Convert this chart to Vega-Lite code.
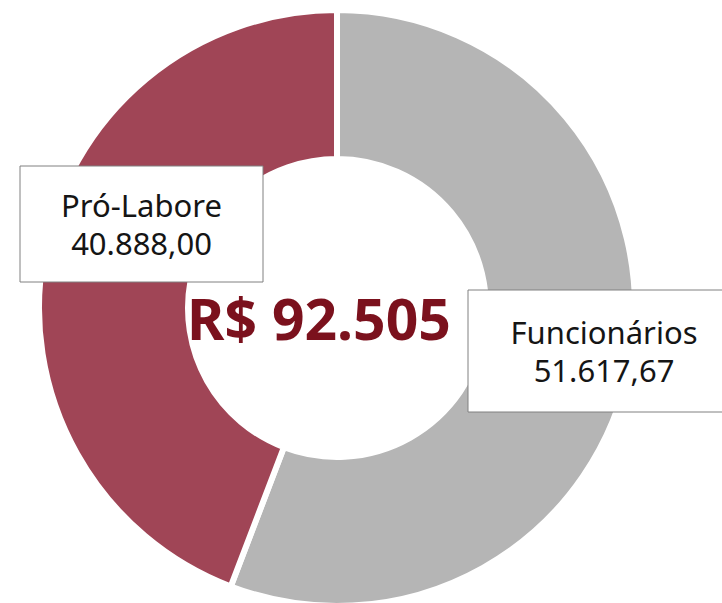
{
  "$schema": "https://vega.github.io/schema/vega-lite/v6.json",
  "width": 674,
  "height": 604,
  "autosize": {"type": "none"},
  "padding": {"left": 0, "top": 6, "right": 48, "bottom": 0},
  "background": "white",
  "config": {
    "view": {"stroke": null},
    "font": "Noto Sans",
    "locale": {"number": {"decimal": ",", "thousands": ".", "grouping": [3], "currency": ["R$ ", ""]}}
  },
  "data": {"values": [
    {"categoria": "Funcionários", "valor": 51617.67},
    {"categoria": "Pró-Labore", "valor": 40888.00}
  ]},
  "layer": [
    {
      "mark": {"type": "arc", "outerRadius": 298, "innerRadius": 149, "stroke": "white", "strokeWidth": 6},
      "encoding": {
        "theta": {"field": "valor", "type": "quantitative", "stack": true},
        "color": {"field": "categoria", "type": "nominal", "scale": {"domain": ["Funcionários", "Pró-Labore"], "range": ["#b5b5b5", "#a04556"]}, "legend": null}
      }
    },
    {
      "transform": [{"filter": "datum.categoria === 'Pró-Labore'"}],
      "mark": {"type": "rect", "width": 243, "height": 116, "fill": "white", "stroke": "#808080", "strokeWidth": 1},
      "encoding": {
        "x": {"field": "categoria", "type": "nominal", "scale": {"type": "point", "domain": ["Pró-Labore", "Funcionários"], "range": [141.5, 604], "padding": 0}, "axis": null},
        "y": {"field": "categoria", "type": "nominal", "scale": {"type": "point", "domain": ["Pró-Labore", "Funcionários"], "range": [218, 345], "padding": 0}, "axis": null}
      }
    },
    {
      "transform": [{"filter": "datum.categoria === 'Funcionários'"}],
      "mark": {"type": "rect", "width": 272, "height": 122, "fill": "white", "stroke": "#808080", "strokeWidth": 1},
      "encoding": {
        "x": {"field": "categoria", "type": "nominal", "axis": null},
        "y": {"field": "categoria", "type": "nominal", "axis": null}
      }
    },
    {
      "mark": {"type": "text", "fontSize": 31, "color": "#151515", "align": "center", "baseline": "alphabetic", "dy": -7},
      "encoding": {
        "x": {"field": "categoria", "type": "nominal", "axis": null},
        "y": {"field": "categoria", "type": "nominal", "axis": null},
        "text": {"field": "categoria", "type": "nominal"}
      }
    },
    {
      "mark": {"type": "text", "fontSize": 31, "color": "#151515", "align": "center", "baseline": "alphabetic", "dy": 31},
      "encoding": {
        "x": {"field": "categoria", "type": "nominal", "axis": null},
        "y": {"field": "categoria", "type": "nominal", "axis": null},
        "text": {"field": "valor", "type": "quantitative", "format": ",.2f"}
      }
    },
    {
      "data": {"values": [{"total": "R$ 92.505"}]},
      "mark": {"type": "text", "fontSize": 57, "fontWeight": "bold", "color": "#7b111d", "align": "center", "baseline": "alphabetic", "dx": -18, "dy": 32},
      "encoding": {
        "text": {"field": "total", "type": "nominal"}
      }
    }
  ]
}
